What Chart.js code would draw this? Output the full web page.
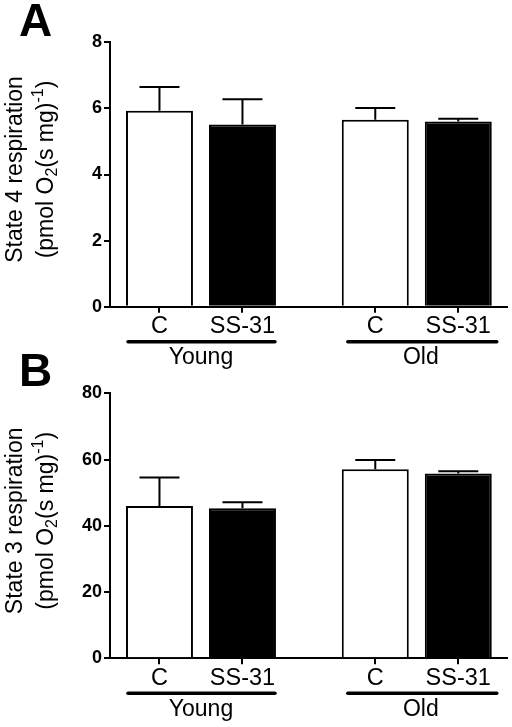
<!DOCTYPE html>
<html>
<head>
<meta charset="utf-8">
<script src="https://cdn.jsdelivr.net/npm/chart.js@4/dist/chart.umd.min.js"></script>
<style>
  html, body { margin: 0; padding: 0; background: #fff; }
  body { width: 512px; height: 727px; position: relative; overflow: hidden; }
  .panel { position: absolute; left: 0; width: 512px; }
  #wrapA { top: 0; height: 372px; }
  #wrapB { top: 345px; height: 382px; }
</style>
</head>
<body>
<div class="panel" id="wrapA"><canvas id="chartA"></canvas></div>
<div class="panel" id="wrapB"><canvas id="chartB"></canvas></div>
<script>
// ---- data ----
const categories = ['C', 'SS-31', 'C', 'SS-31'];
const groups = ['Young', 'Old'];
const groupOf = [0, 0, 1, 1];
const state4Mean = [5.93, 5.51, 5.66, 5.60];
const state4Sem = [0.72, 0.77, 0.35, 0.09];
const state3Mean = [46.0, 45.3, 57.1, 55.8];
const state3Sem = [8.6, 1.8, 2.8, 0.7];
const yTicksA = [0, 2, 4, 6, 8];
const yTicksB = [0, 20, 40, 60, 80];
const fillColors = ['#ffffff', '#000000', '#ffffff', '#000000'];

// ---- layout helpers ----
const FONT = '"Liberation Sans", Arial, Helvetica, sans-serif';
const GROUP_STEP = 2.6;
const xPos = categories.map((c, i) => {
  const g = groupOf[i];
  const first = groupOf.indexOf(g);
  return g * GROUP_STEP + (i - first);
});

function makeChart(canvasId, opts) {
  const errPlugin = {
    id: 'decor' + canvasId,
    afterDatasetsDraw(chart) {
      const ctx = chart.ctx;
      const ys = chart.scales.y;
      const meta = chart.getDatasetMeta(0);
      ctx.save();
      ctx.strokeStyle = '#000';
      ctx.lineWidth = 2;
      meta.data.forEach((el, i) => {
        const top = ys.getPixelForValue(opts.mean[i] + opts.sem[i]);
        ctx.beginPath();
        ctx.moveTo(el.x, el.y);
        ctx.lineTo(el.x, top);
        ctx.moveTo(el.x - 20, top);
        ctx.lineTo(el.x + 20, top);
        ctx.stroke();
      });
      ctx.restore();
    },
    afterDraw(chart) {
      const ctx = chart.ctx;
      const area = chart.chartArea;
      const meta = chart.getDatasetMeta(0);
      ctx.save();
      ctx.fillStyle = '#000';
      ctx.strokeStyle = '#000';
      // group underline + labels
      groups.forEach((g, gi) => {
        let l = Infinity, r = -Infinity;
        meta.data.forEach((el, i) => {
          if (groupOf[i] !== gi) return;
          l = Math.min(l, el.x - el.width / 2);
          r = Math.max(r, el.x + el.width / 2);
        });
        const yLine = area.bottom + 35;
        ctx.lineWidth = 3.5;
        ctx.lineCap = 'round';
        ctx.beginPath();
        ctx.moveTo(l + 2 + gi * 4, yLine);
        ctx.lineTo(r - 1 + gi * 6, yLine);
        ctx.stroke();
        ctx.font = '23px ' + FONT;
        ctx.textAlign = 'center';
        ctx.textBaseline = 'middle';
        ctx.fillText(g, (l + r) / 2 + gi * 4, area.bottom + 51);
      });
      // y axis title (rotated, two lines, with sub/superscript)
      const cy = (area.top + area.bottom) / 2 - 5;
      ctx.save();
      ctx.translate(16, cy);
      ctx.rotate(-Math.PI / 2);
      ctx.font = '23px ' + FONT;
      ctx.textAlign = 'center';
      ctx.textBaseline = 'middle';
      ctx.fillText(opts.title, 0, 0);
      ctx.restore();

      const segs = [
        { t: '(pmol O', f: '23px ' + FONT, dy: 0 },
        { t: '2', f: '16px ' + FONT, dy: 6 },
        { t: '(s mg)', f: '23px ' + FONT, dy: 0 },
        { t: '-1', f: '16px ' + FONT, dy: -8 },
        { t: ')', f: '23px ' + FONT, dy: 0 }
      ];
      let total = 0;
      segs.forEach(s => { ctx.font = s.f; s.w = ctx.measureText(s.t).width; total += s.w; });
      ctx.save();
      ctx.translate(47, cy);
      ctx.rotate(-Math.PI / 2);
      ctx.textAlign = 'left';
      ctx.textBaseline = 'middle';
      let x = -total / 2;
      segs.forEach(s => { ctx.font = s.f; ctx.fillText(s.t, x, s.dy); x += s.w; });
      ctx.restore();

      // panel letter
      ctx.font = 'bold 46px ' + FONT;
      ctx.textAlign = 'left';
      ctx.textBaseline = 'alphabetic';
      ctx.fillText(opts.letter, 19, opts.letterY);
      ctx.restore();
    }
  };

  const H = opts.height;
  return new Chart(document.getElementById(canvasId), {
    type: 'bar',
    data: {
      datasets: [{
        data: xPos.map((x, i) => ({ x: x, y: opts.mean[i] })),
        backgroundColor: fillColors,
        borderColor: '#000',
        borderWidth: 2,
        categoryPercentage: 1,
        barPercentage: 0.807
      }]
    },
    options: {
      responsive: true,
      maintainAspectRatio: false,
      animation: false,
      devicePixelRatio: 1,
      layout: { padding: { left: 0, right: 5, top: opts.top, bottom: 0 } },
      plugins: { legend: { display: false }, tooltip: { enabled: false } },
      scales: {
        x: {
          type: 'linear',
          offset: false,
          min: -0.596,
          max: 4.187,
          afterBuildTicks: s => { s.ticks = xPos.map(v => ({ value: v })); },
          afterFit: s => { s.height = H - opts.bottom; },
          grid: { display: true, offset: false, drawOnChartArea: false, drawTicks: true, tickLength: 6, color: '#000', lineWidth: 2 },
          border: { display: true, color: '#000', width: 2 },
          ticks: {
            autoSkip: false, maxRotation: 0, padding: 0,
            color: '#000',
            font: { family: FONT, size: 23.5 },
            callback: (v, i) => categories[i]
          }
        },
        y: {
          min: 0,
          max: opts.yTicks[opts.yTicks.length - 1],
          afterBuildTicks: s => { s.ticks = opts.yTicks.map(v => ({ value: v })); },
          afterFit: s => { s.width = 110; },
          grid: { display: true, drawOnChartArea: false, drawTicks: true, tickLength: 6, color: '#000', lineWidth: 2 },
          border: { display: true, color: '#000', width: 2 },
          ticks: {
            padding: 2,
            color: '#000',
            font: { family: FONT, size: 18, weight: 'bold' }
          }
        }
      }
    },
    plugins: [errPlugin]
  });
}

makeChart('chartA', {
  mean: state4Mean, sem: state4Sem, yTicks: yTicksA,
  title: 'State 4 respiration', letter: 'A', letterY: 36,
  height: 372, top: 42.3, bottom: 306.7
});
makeChart('chartB', {
  mean: state3Mean, sem: state3Sem, yTicks: yTicksB,
  title: 'State 3 respiration', letter: 'B', letterY: 41,
  height: 382, top: 48.3, bottom: 313.3
});
</script>
</body>
</html>
